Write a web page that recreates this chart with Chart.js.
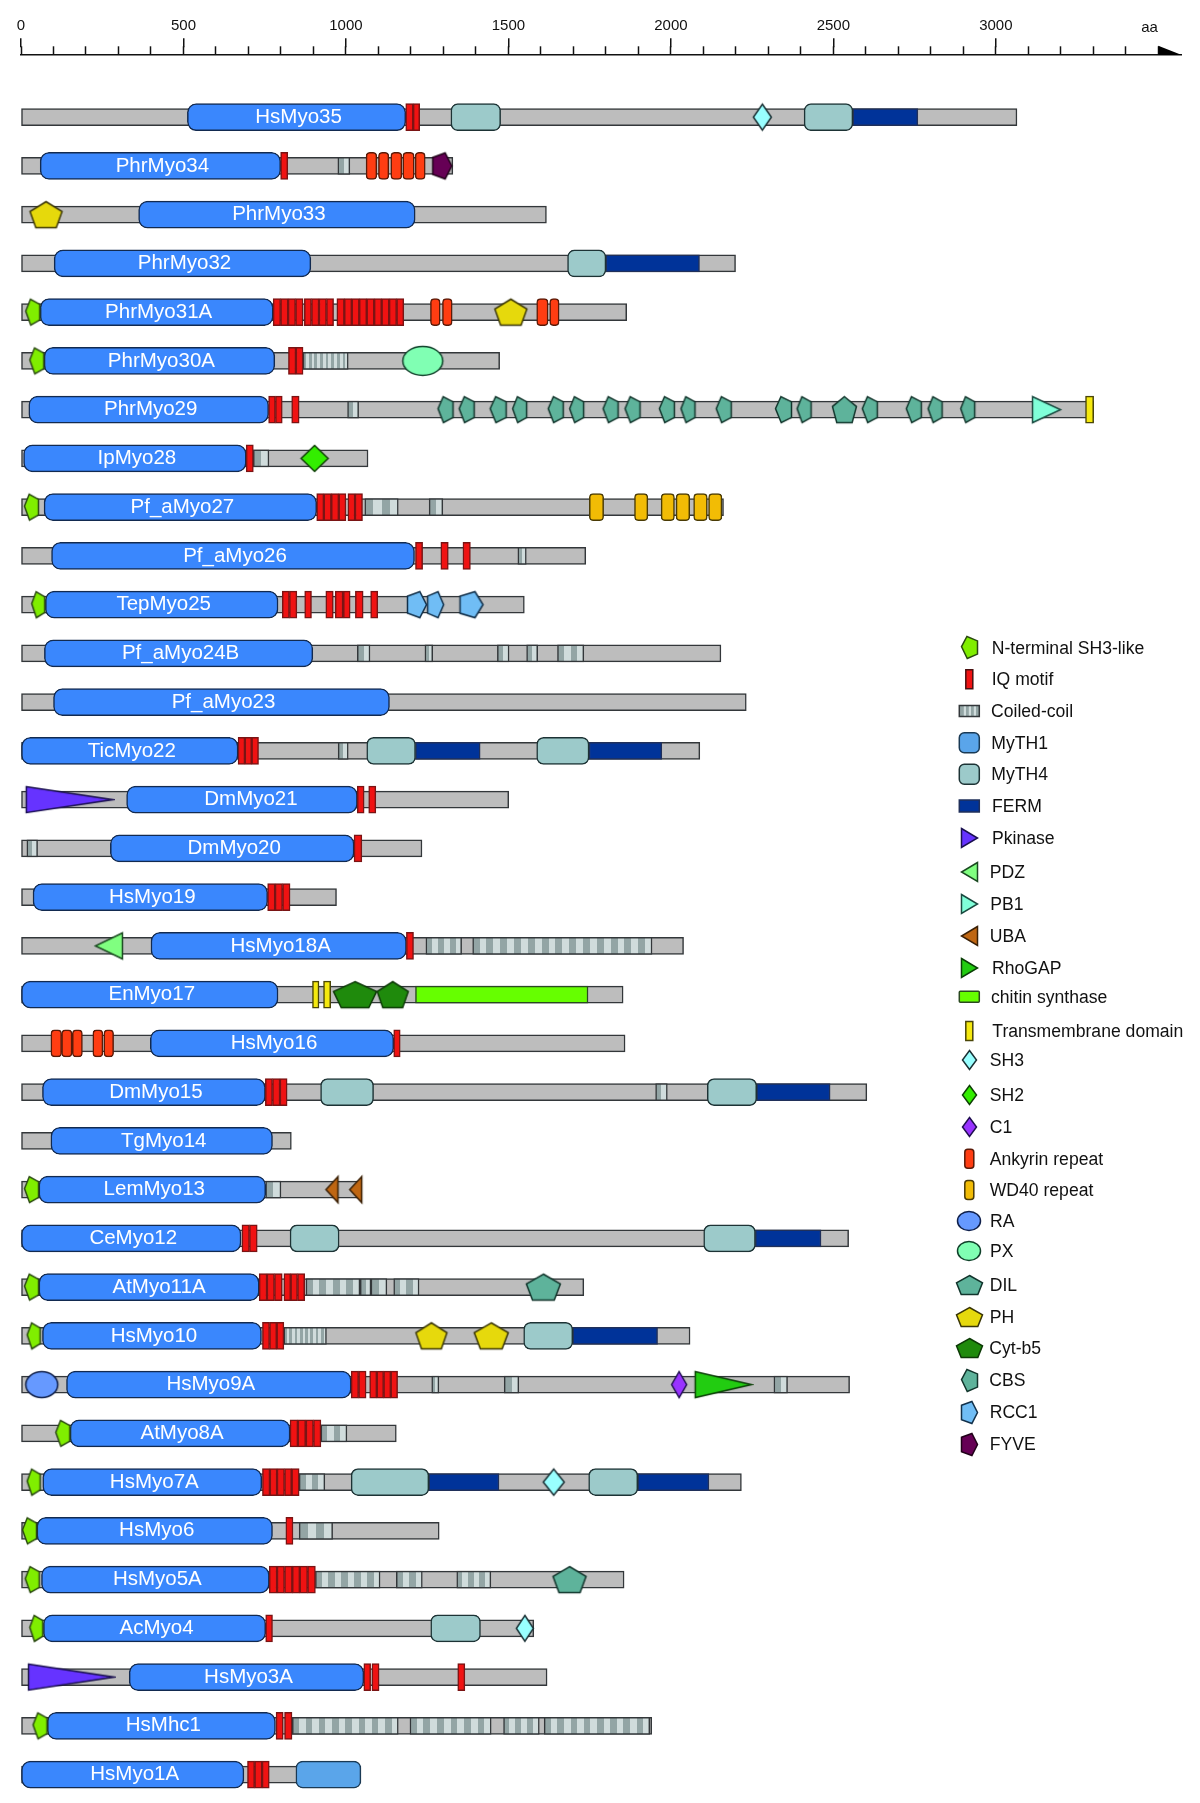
<!DOCTYPE html>
<html><head><meta charset="utf-8"><title>Myosin domain architectures</title>
<style>html,body{margin:0;padding:0;background:#fff}canvas{display:block}</style>
<script src="https://cdn.jsdelivr.net/npm/chart.js@4"></script></head>
<body><canvas id="c" width="1200" height="1803"></canvas>
<script>
// ---------- DATA (amino-acid positions) ----------
const categories=['HsMyo35','PhrMyo34','PhrMyo33','PhrMyo32','PhrMyo31A','PhrMyo30A','PhrMyo29','IpMyo28','Pf_aMyo27','Pf_aMyo26','TepMyo25','Pf_aMyo24B','Pf_aMyo23','TicMyo22','DmMyo21','DmMyo20','HsMyo19','HsMyo18A','EnMyo17','HsMyo16','DmMyo15','TgMyo14','LemMyo13','CeMyo12','AtMyo11A','HsMyo10','HsMyo9A','AtMyo8A','HsMyo7A','HsMyo6','HsMyo5A','AcMyo4','HsMyo3A','HsMhc1','HsMyo1A'];
const proteinLengths=[3065,1329,1617,2199,1864,1473,3301,1068,2162,1738,1549,2154,2232,2089,1501,1234,971,2039,1853,1859,2603,832,1047,2547,1732,2059,2550,1155,2217,1287,1856,1578,1619,1941,1046];
const motorStart=[512,59,362,102,59,71,24,8,71,94,75,72,100,0,325,275,37,400,0,398,66,92,55,0,55,66,140,151,67,49,63,69,333,81,0];
const motorEnd=[1184,799,1213,892,776,781,762,693,910,1211,791,898,1134,668,1035,1025,759,1186,791,1147,752,774,753,677,733,740,1016,828,741,774,764,753,1055,783,686];
// domain lists: [row index, start aa, end aa]
const iqMotif=[[0,1184,1207],[0,1207,1227],[1,799,821],[4,776,799],[4,799,822],[4,822,845],[4,845,868],[4,872,894],[4,894,917],[4,917,940],[4,940,962],[4,972,995],[4,995,1018],[4,1018,1041],[4,1041,1064],[4,1064,1087],[4,1087,1110],[4,1110,1133],[4,1133,1156],[4,1156,1178],[5,823,846],[5,846,868],[6,762,783],[6,783,804],[6,833,856],[7,693,715],[8,910,932],[8,932,955],[8,955,978],[8,978,1000],[8,1006,1028],[8,1028,1051],[9,1214,1236],[9,1292,1315],[9,1360,1383],[10,804,826],[10,826,849],[10,873,894],[10,938,961],[10,967,991],[10,992,1013],[10,1029,1053],[10,1076,1098],[13,668,689],[13,689,710],[13,710,731],[14,1035,1056],[14,1070,1092],[15,1025,1049],[16,759,782],[16,782,805],[16,805,828],[17,1186,1208],[19,1147,1167],[20,752,774],[20,774,797],[20,797,819],[23,680,703],[23,703,727],[24,733,757],[24,757,780],[24,780,804],[24,809,830],[24,830,851],[24,851,873],[25,743,765],[25,765,787],[25,787,809],[26,1016,1039],[26,1039,1062],[26,1073,1095],[26,1095,1116],[26,1116,1138],[26,1138,1159],[27,828,852],[27,852,876],[27,877,900],[27,900,923],[28,743,766],[28,766,788],[28,788,811],[28,811,833],[28,833,856],[29,815,837],[30,764,788],[30,788,811],[30,811,835],[30,835,858],[30,858,882],[30,882,906],[31,753,774],[32,1055,1076],[32,1080,1102],[32,1344,1366],[33,785,807],[33,811,834],[34,697,719],[34,719,742],[34,742,764]];
const coiledCoil=[[1,975,1012],[6,1005,1039],[7,715,763],[8,1058,1161],[8,1256,1298],[9,1529,1555],[11,1035,1074],[11,1243,1267],[11,1466,1502],[11,1556,1590],[11,1651,1732],[13,976,1007],[15,18,51],[17,1246,1356],[17,1390,1942],[20,1953,1989],[22,753,800],[24,877,1043],[24,1044,1077],[24,1077,1126],[24,1147,1225],[26,1264,1286],[26,1487,1532],[26,2317,2359],[27,923,1003],[28,856,935],[29,856,959],[30,906,1105],[30,1155,1235],[30,1341,1446],[33,835,1161],[33,1197,1447],[33,1485,1595],[33,1610,1935]];
const fineCoiledCoil=[[5,868,1007],[25,809,940]];
const myth1=[[34,846,1046]];
const myth4=[[0,1323,1476],[0,2410,2560],[3,1682,1800],[13,1064,1214],[13,1587,1748],[20,922,1085],[20,2112,2264],[23,828,979],[23,2101,2260],[25,1547,1698],[28,1016,1255],[28,1747,1898],[31,1261,1414]];
const ferm=[[0,2560,2760],[3,1800,2088],[13,1214,1413],[13,1748,1972],[20,2264,2490],[23,2260,2462],[25,1698,1959],[28,1255,1471],[28,1898,2117]];
const chitinSynthase=[[18,1214,1745]];
const transmembrane=[[6,3276,3301],[18,897,917],[18,931,953]];
const ankyrin=[[1,1062,1095],[1,1100,1132],[1,1138,1172],[1,1175,1210],[1,1213,1244],[4,1260,1290],[4,1297,1327],[4,1587,1622],[4,1627,1656],[19,92,125],[19,125,157],[19,158,189],[19,221,252],[19,255,285]];
const wd40=[[8,1749,1793],[8,1888,1929],[8,1970,2011],[8,2016,2058],[8,2070,2112],[8,2116,2157]];
const sh3Like=[[4,13,59],[5,26,71],[8,9,55],[10,31,75],[22,10,55],[24,10,55],[25,18,60],[27,106,151],[28,18,60],[29,3,49],[30,12,57],[31,25,69],[33,36,81]];
const pkinase=[[14,15,282],[32,22,286]];
const pdz=[[17,228,313]];
const pb1=[[6,3112,3200]];
const uba=[[22,937,977],[22,1010,1050]];
const rhoGap=[[26,2074,2248]];
const sh3=[[0,2252,2311],[28,1605,1674],[31,1523,1578]];
const sh2=[[7,861,946]];
const c1=[[26,2001,2050]];
const ra=[[26,13,115]];
const px=[[5,1174,1299]];
const dil=[[24,1553,1662],[30,1635,1741],[6,2496,2572]];
const ph=[[2,26,128],[4,1457,1558],[25,1213,1313],[25,1393,1501]];
const cytB5=[[18,961,1095],[18,1095,1193]];
const cbs=[[6,1282,1331],[6,1347,1396],[6,1443,1494],[6,1511,1558],[6,1621,1670],[6,1687,1733],[6,1790,1839],[6,1857,1907],[6,1963,2012],[6,2029,2076],[6,2138,2187],[6,2321,2372],[6,2387,2433],[6,2587,2637],[6,2723,2772],[6,2790,2836],[6,2890,2937]];
const rcc1=[[10,1188,1249],[10,1250,1302],[10,1350,1423]];
const fyve=[[1,1266,1327]];
const axisLabels=[0,500,1000,1500,2000,2500,3000];
const axisUnit='aa';
const legendNames=['N-terminal SH3-like','IQ motif','Coiled-coil','MyTH1','MyTH4','FERM','Pkinase','PDZ','PB1','UBA','RhoGAP','chitin synthase','Transmembrane domain','SH3','SH2','C1','Ankyrin repeat','WD40 repeat','RA','PX','DIL','PH','Cyt-b5','CBS','RCC1','FYVE'];

// ---------- STYLE ----------
const FONT='"Liberation Sans", Arial, sans-serif';
const STRIPE_D='#93a5a5', STRIPE_L='#d0dcdc';
const TALL=27, LOW=17;
const labelNudge={14:7,24:8};
const POLY={
 pent:[[.5,0],[1,.38],[.82,1],[.18,1],[0,.38]],
 left:[[0,.46],[.34,0],[1,.2],[1,.8],[.36,1]],
 right:[[0,.17],[.65,0],[1,.5],[.65,1],[0,.83]],
 triR:[[0,0],[1,.5],[0,1]],
 triL:[[1,0],[0,.5],[1,1]],
 dia:[[.5,0],[1,.5],[.5,1],[0,.5]]
};
const SH={sh3Like:['left','#80ee00','#2a4a10'],pkinase:['triR','#6633ff','#1a1050'],pdz:['triL','#80ff80','#1a4a20'],pb1:['triR','#80ffd9','#1a4a40'],uba:['triL','#bf6612','#3a2006'],rhoGap:['triR','#22cc11','#0a4006'],sh3:['dia','#99ffff','#1a3034'],sh2:['dia','#33ee00','#0f4006'],c1:['dia','#9933ff','#201050'],ra:['ell','#6699ff','#10204a'],px:['ell','#80ffb3','#10402a'],dil:['pent','#5eb39b','#12352c'],ph:['pent','#e6d90c','#3a3606'],cytB5:['pent','#1f8a0c','#0c3a06'],cbs:['left','#5eb39b','#12352c'],rcc1:['right','#70bdf5','#12304a'],fyve:['right','#660055','#200018']};
const shapeCache={};
function shapeCanvas(kind,fill,stroke,w,h){
 const key=[kind,fill,Math.round(w),h].join();
 if(shapeCache[key])return shapeCache[key];
 const c=document.createElement('canvas');c.width=Math.round(w)+4;c.height=h+4;
 const g=c.getContext('2d');g.fillStyle=fill;g.strokeStyle=stroke;g.lineWidth=1.5;g.lineJoin='miter';g.beginPath();
 const W=Math.round(w)-1,H=h-1;
 if(kind==='ell')g.ellipse(c.width/2,c.height/2,W/2,H/2,0,0,Math.PI*2);
 else POLY[kind].forEach((p,i)=>{const x=2.5+p[0]*W,y=2.5+p[1]*H;i?g.lineTo(x,y):g.moveTo(x,y)});
 g.closePath();g.fill();g.stroke();
 return shapeCache[key]=c;
}
const stripes=period=>ctx=>{
 const s=ctx.chart.scales.x,raw=ctx.raw;
 if(!s||!raw||!raw.x)return STRIPE_D;
 const a=s.getPixelForValue(raw.x[0]),b=s.getPixelForValue(raw.x[1]);
 if(!isFinite(a)||!isFinite(b)||b<=a)return STRIPE_D;
 const n=Math.max(1,Math.round((b-a)/period));
 const g=ctx.chart.ctx.createLinearGradient(a,0,b,0);
 for(let i=0;i<n;i++){
  g.addColorStop(i/n,STRIPE_D);g.addColorStop((i+.5)/n,STRIPE_D);
  g.addColorStop((i+.5)/n,STRIPE_L);g.addColorStop((i+1)/n,STRIPE_L);
 }
 return g;
};
const toBars=list=>list.map(d=>({y:d[0],x:[d[1],d[2]]}));
function barSet(label,list,h,fill,stroke,radius,order,bw){
 return {type:'bar',label,data:toBars(list),indexAxis:'y',grouped:false,barThickness:h,backgroundColor:fill,borderColor:stroke,borderWidth:bw||1.5,borderRadius:radius,borderSkipped:false,order};
}
function shapeSet(label,list,key,h){
 const [kind,fill,stroke]=SH[key];
 return {type:'scatter',label,indexAxis:'x',order:5,clip:false,
  data:list.map(d=>({x:(d[1]+d[2])/2,y:d[0],span:d[2]-d[1]})),
  pointRadius:5,pointHoverRadius:5,
  pointStyle:ctx=>{
   const s=ctx.chart.scales.x;if(!s||!ctx.raw)return 'circle';
   const w=s.getPixelForValue(ctx.raw.span)-s.getPixelForValue(0);
   if(!isFinite(w)||w<=0)return 'circle';
   return shapeCanvas(kind,fill,stroke,w,h||TALL);
  }};
}
const datasets=[
 barSet('Backbone',proteinLengths.map((v,i)=>[i,0,v]),LOW,'#bdbdbd','#33373a',0,100),
 barSet('Coiled-coil',coiledCoil,LOW,stripes(13.5),'#33373a',0,90),
 barSet('Coiled-coil fine',fineCoiledCoil,LOW,stripes(5.5),'#33373a',0,90),
 barSet('FERM',ferm,LOW,'#003399','#20305a',0,80),
 barSet('chitin synthase',chitinSynthase,LOW,'#66ff00','#2a4a20',0,80),
 barSet('Motor',categories.map((c,i)=>[i,motorStart[i],motorEnd[i]]),TALL,'#3a87fd','#122a50',9,40),
 barSet('MyTH1',myth1,TALL,'#5aa5ea','#1a3a55',7,40),
 barSet('MyTH4',myth4,TALL,'#9ccaca','#1d3335',7,40),
 barSet('IQ motif',iqMotif,TALL,'#f01212','#7a1414',0,30),
 barSet('Ankyrin repeat',ankyrin,TALL,'#ff3d12','#5a1a08',4,30),
 barSet('WD40 repeat',wd40,TALL,'#f2bc05','#4a3b05',4,30),
 barSet('Transmembrane domain',transmembrane,TALL,'#f5e90f','#4a4608',0,30),
 shapeSet('N-terminal SH3-like',sh3Like,'sh3Like'),shapeSet('Pkinase',pkinase,'pkinase'),shapeSet('PDZ',pdz,'pdz'),shapeSet('PB1',pb1,'pb1'),shapeSet('UBA',uba,'uba'),shapeSet('RhoGAP',rhoGap,'rhoGap'),shapeSet('SH3',sh3,'sh3'),shapeSet('SH2',sh2,'sh2'),shapeSet('C1',c1,'c1'),shapeSet('RA',ra,'ra'),shapeSet('PX',px,'px',30),shapeSet('DIL',dil,'dil'),shapeSet('PH',ph,'ph'),shapeSet('Cyt-b5',cytB5,'cytB5'),shapeSet('CBS',cbs,'cbs'),shapeSet('RCC1',rcc1,'rcc1'),shapeSet('FYVE',fyve,'fyve')
];

// ---------- LEGEND LAYOUT ----------
const legendLayout=[ // marker centre y, text x
 [647.7,991.7],[679.3,991.7],[711,991],[742.7,991.3],[774.3,991.3],[806,992],[838,992],[872.3,989.7],[904,990.3],[935.7,989.7],[967.7,992],[996.7,991],[1031,992.3],[1060.3,989.7],[1095,989.7],[1126.7,989.7],[1158.7,989.7],[1190,989.7],[1221.3,990],[1250.7,990],[1285,989.7],[1316.7,989.7],[1348.3,989.3],[1380,989.3],[1412,989.7],[1444,989.7]];
function legendMarker(g,name,x,y){
 const rect=(w,h,r,fill,stroke)=>{g.beginPath();g.roundRect(x-w/2,y-h/2,w,h,r);g.fillStyle=fill;g.fill();g.strokeStyle=stroke;g.lineWidth=1.5;g.stroke();};
 const img=(key,w,h)=>{const [k,f,s]=SH[key];const c=shapeCanvas(k,f,s,w,h);g.drawImage(c,Math.round(x-c.width/2),Math.round(y-c.height/2));};
 switch(name){
  case 'N-terminal SH3-like':img('sh3Like',17,23);break;
  case 'IQ motif':rect(7,19,0,'#f01212','#4a1010');break;
  case 'Coiled-coil':{rect(20,11,0,STRIPE_D,'#33373a');g.fillStyle=STRIPE_L;for(const o of [-5.5,-.5,4.5])g.fillRect(x+o,y-4.5,2.2,9);break;}
  case 'MyTH1':rect(20,20,5,'#5aa5ea','#1a3a55');break;
  case 'MyTH4':rect(20,20,5,'#9ccaca','#1d3335');break;
  case 'FERM':rect(20,12,0,'#003399','#20305a');break;
  case 'Pkinase':img('pkinase',17,20);break;
  case 'PDZ':img('pdz',17,20);break;
  case 'PB1':img('pb1',17,20);break;
  case 'UBA':img('uba',17,20);break;
  case 'RhoGAP':img('rhoGap',17,20);break;
  case 'chitin synthase':rect(20,11,1,'#66ff00','#2a4a20');break;
  case 'Transmembrane domain':rect(7,19,0,'#f5e90f','#4a4608');break;
  case 'SH3':img('sh3',15,20);break;
  case 'SH2':img('sh2',15,20);break;
  case 'C1':img('c1',15,20);break;
  case 'Ankyrin repeat':rect(9,19,3,'#ff3d12','#5a1a08');break;
  case 'WD40 repeat':rect(9,19,3,'#f2bc05','#4a3b05');break;
  case 'RA':img('ra',24,20);break;
  case 'PX':img('px',24,20);break;
  case 'DIL':img('dil',27,20);break;
  case 'PH':img('ph',27,20);break;
  case 'Cyt-b5':img('cytB5',27,20);break;
  case 'CBS':img('cbs',17,23);break;
  case 'RCC1':img('rcc1',17,23);break;
  case 'FYVE':img('fyve',17,23);break;
 }
}
const alignTick=v=>Math.round(v-.75)+.75;
const overlay={
 id:'overlay',
 afterDatasetsDraw(chart){
  const g=chart.ctx,xs=chart.scales.x,top=chart.chartArea.top;
  // long ticks every 500 aa
  g.save();g.strokeStyle='#111';g.lineWidth=1.5;
  xs.ticks.forEach(t=>{if(t.value%500===0&&t.value<=3000){const p=alignTick(xs.getPixelForValue(t.value));g.beginPath();g.moveTo(p,top-7);g.lineTo(p,top-16);g.stroke();}});
  // axis arrow and unit
  g.fillStyle='#000';g.beginPath();g.moveTo(xs.getPixelForValue(3500),top-8.5);g.lineTo(xs.getPixelForValue(3500),top+.7);g.lineTo(xs.right,top+.7);g.closePath();g.fill();
  g.fillStyle='#111';g.font='15px '+FONT;g.textAlign='center';g.textBaseline='middle';
  g.fillText(axisUnit,xs.getPixelForValue(3473),28);
  // motor labels
  const meta=chart.getDatasetMeta(datasets.findIndex(d=>d.label==='Motor'));
  g.fillStyle='#fff';g.font='20.5px '+FONT;
  meta.data.forEach((el,i)=>{const p=el.getProps(['x','base','y'],true);g.fillText(categories[i],(p.x+p.base)/2+2+(labelNudge[i]||0),p.y);});
  // legend
  g.textAlign='left';g.font='17.6px '+FONT;
  legendNames.forEach((n,i)=>{const [y,tx]=legendLayout[i];legendMarker(g,n,969.3,y);g.fillStyle='#111';g.fillText(n,tx,y+1);});
  g.restore();
 }
};
new Chart(document.getElementById('c'),{
 type:'bar',
 data:{datasets},
 plugins:[overlay],
 options:{
  responsive:false,animation:false,events:[],indexAxis:'y',
  layout:{padding:{left:21,right:18.3,top:0,bottom:0}},
  plugins:{legend:{display:false},tooltip:{enabled:false},title:{display:false}},
  scales:{
   x:{type:'linear',position:'top',min:0,max:3572,
    afterFit(s){s.height=54.3;s.paddingLeft=0;s.paddingRight=0;},
    grid:{display:true,drawOnChartArea:false,drawTicks:true,tickLength:8,tickColor:'#111',tickWidth:1.5},
    border:{display:true,color:'#111',width:1.5},
    ticks:{stepSize:100,autoSkip:false,maxRotation:0,minRotation:0,includeBounds:false,padding:11,color:'#111',font:{family:FONT,size:15},
     callback:v=>axisLabels.includes(v)?String(v):''}},
   y:{type:'linear',display:false,offset:false,reverse:true,min:-1.29,max:34.46}
  }
 }
});
</script></body></html>
